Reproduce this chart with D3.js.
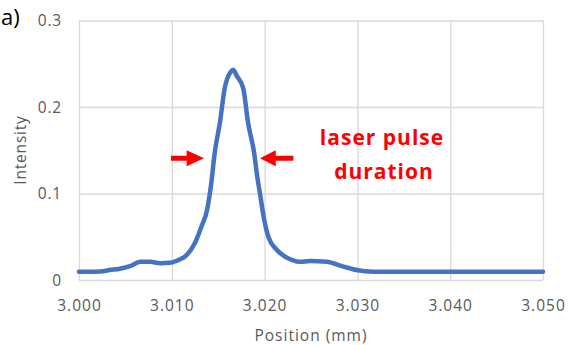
<!DOCTYPE html>
<html>
<head>
<meta charset="utf-8">
<script src="https://cdn.jsdelivr.net/npm/d3@7"></script>
<style>
  html, body { margin: 0; padding: 0; background: #fff; }
  svg { display: block; }
</style>
</head>
<body>
<div id="grafico"></div>
<script>
// posicao (mm) e intensidade
const posicao = [3.0000, 3.0010, 3.0023, 3.0033, 3.0044, 3.0055, 3.0066, 3.0077, 3.0087, 3.0098,
    3.0109, 3.0114, 3.0125, 3.0132, 3.0138, 3.0143, 3.0146, 3.0152, 3.0157, 3.0163, 3.0166,
    3.0170, 3.0177, 3.0182, 3.0189, 3.0192, 3.0195, 3.0199, 3.0204, 3.0213, 3.0222, 3.0230,
    3.0238, 3.0249, 3.0267, 3.0285, 3.0299, 3.0317, 3.0330, 3.0360, 3.0400, 3.0450, 3.0500];
const intensidade = [0.0095, 0.0095, 0.0098, 0.0115, 0.0130, 0.0160, 0.0210, 0.0210, 0.0195, 0.0200,
    0.0240, 0.0270, 0.0430, 0.0620, 0.0810, 0.1160, 0.1450, 0.1830, 0.2216, 0.2400, 0.2430,
    0.2360, 0.2216, 0.1830, 0.1450, 0.1200, 0.1000, 0.0730, 0.0500, 0.0350, 0.0270, 0.0230,
    0.0210, 0.0220, 0.0210, 0.0154, 0.0116, 0.0096, 0.0095, 0.0095, 0.0095, 0.0095, 0.0095];

const ticksX = [3.000, 3.010, 3.020, 3.030, 3.040, 3.050];
const ticksY = [0, 0.1, 0.2, 0.3];

// setas vermelhas: ponta, base da cabeca, cauda
const setas = [
    { y: 0.1407, ponta: 3.01347, base: 3.0116, cauda: 3.00991 },
    { y: 0.1407, ponta: 3.0195, base: 3.0212, cauda: 3.0231 }
];

const largura = 568;
const altura = 345;

const svg = d3.select("#grafico")
    .append("svg")
    .attr("width", largura)
    .attr("height", altura);

const x = d3.scaleLinear().domain([3.000, 3.050]).range([79, 543]);
const y = d3.scaleLinear().domain([0, 0.3]).range([280, 20.5]);

//grade vertical
svg.append("g")
    .attr("transform", "translate(0,280)")
    .call(d3.axisBottom(x).tickValues(ticksX).tickSize(-259.5).tickFormat(""))
    .call(g => g.select(".domain").remove())
    .call(g => g.selectAll("line").attr("stroke", "#d9d9d9").attr("stroke-width", 1.3));

//grade horizontal
svg.append("g")
    .attr("transform", "translate(79,0)")
    .call(d3.axisLeft(y).tickValues(ticksY).tickSize(-464).tickFormat(""))
    .call(g => g.select(".domain").remove())
    .call(g => g.selectAll("line").attr("stroke", "#d9d9d9").attr("stroke-width", 1.3));

//rotulos dos eixos
svg.append("g")
    .attr("transform", "translate(0,280)")
    .call(d3.axisBottom(x).tickValues(ticksX).tickSize(0).tickPadding(20).tickFormat(d3.format(".3f")))
    .call(g => g.select(".domain").remove())
    .call(g => g.selectAll("text")
        .attr("fill", "#595959")
        .style("font-family", "'Open Sans', sans-serif")
        .style("font-size", "15.5px")
        .style("letter-spacing", "1px"));

svg.append("g")
    .attr("transform", "translate(62,0)")
    .call(d3.axisLeft(y).tickValues(ticksY).tickSize(0).tickPadding(0).tickFormat(d => d === 0 ? "0" : d3.format(".1f")(d)))
    .call(g => g.select(".domain").remove())
    .call(g => g.selectAll("text")
        .attr("fill", "#595959")
        .attr("dy", "0.35em")
        .style("font-family", "'Open Sans', sans-serif")
        .style("font-size", "15.5px")
        .style("letter-spacing", "0.8px"));

//curva
const linha = d3.line()
    .x((d, i) => x(posicao[i]))
    .y(d => y(d))
    .curve(d3.curveMonotoneX);

svg.append("path")
    .datum(intensidade)
    .attr("d", linha)
    .attr("fill", "none")
    .attr("stroke", "#4472c4")
    .attr("stroke-width", 4.5)
    .attr("stroke-linejoin", "round")
    .attr("stroke-linecap", "round");

//setas
svg.selectAll(".seta")
    .data(setas)
    .enter()
    .append("path")
    .attr("class", "seta")
    .attr("fill", "#ff0000")
    .attr("d", d => {
        const cy = y(d.y), p = x(d.ponta), b = x(d.base), c = x(d.cauda);
        return `M${c},${cy - 2.5} L${b},${cy - 2.5} L${b},${cy - 8} L${p},${cy} L${b},${cy + 8} L${b},${cy + 2.5} L${c},${cy + 2.5} Z`;
    });

//texto da anotacao
svg.append("text")
    .attr("x", 382)
    .attr("y", 145)
    .attr("text-anchor", "middle")
    .attr("fill", "#ff0000")
    .style("font-family", "'Open Sans', sans-serif")
    .style("font-size", "21px")
    .style("font-weight", "bold")
    .style("letter-spacing", "1px")
    .text("laser pulse");

svg.append("text")
    .attr("x", 384)
    .attr("y", 179)
    .attr("text-anchor", "middle")
    .attr("fill", "#ff0000")
    .style("font-family", "'Open Sans', sans-serif")
    .style("font-size", "21px")
    .style("font-weight", "bold")
    .style("letter-spacing", "1px")
    .text("duration");

//titulos dos eixos
svg.append("text")
    .attr("x", 311)
    .attr("y", 341)
    .attr("text-anchor", "middle")
    .attr("fill", "#595959")
    .style("font-family", "'Open Sans', sans-serif")
    .style("font-size", "15.5px")
    .style("letter-spacing", "1px")
    .text("Position (mm)");

svg.append("text")
    .attr("transform", "translate(26,150) rotate(-90)")
    .attr("text-anchor", "middle")
    .attr("fill", "#595959")
    .style("font-family", "'Open Sans', sans-serif")
    .style("font-size", "15.5px")
    .style("letter-spacing", "0.8px")
    .text("Intensity");

//rotulo do painel
svg.append("text")
    .attr("x", 1)
    .attr("y", 25)
    .attr("fill", "#000")
    .style("font-family", "'Open Sans', sans-serif")
    .style("font-size", "22px")
    .text("a)");
</script>
</body>
</html>
